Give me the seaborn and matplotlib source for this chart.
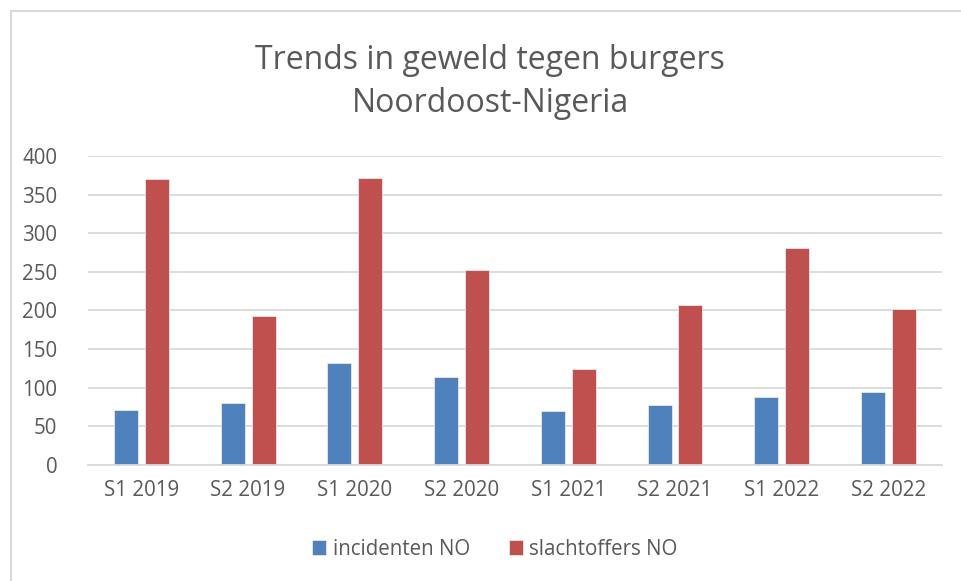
import pandas as pd
import matplotlib
matplotlib.use('Agg')
import matplotlib.pyplot as plt
import seaborn as sns
from matplotlib.lines import Line2D

# data
periods = ['S1 2019', 'S2 2019', 'S1 2020', 'S2 2020',
           'S1 2021', 'S2 2021', 'S1 2022', 'S2 2022']
incidenten = [71, 80, 132, 114, 70, 78, 88, 95]
slachtoffers = [370, 193, 371, 253, 124, 207, 281, 202]
series_names = ['incidenten NO', 'slachtoffers NO']
y_ticks = [0, 50, 100, 150, 200, 250, 300, 350, 400]

df = pd.DataFrame({'periode': periods * 2,
                   'waarde': incidenten + slachtoffers,
                   'reeks': [series_names[0]] * len(periods) + [series_names[1]] * len(periods)})

sns.set_style('white')
plt.rcParams['font.family'] = ['Open Sans', 'DejaVu Sans']
txt = '#595959'

fig = plt.figure(figsize=(9.61, 5.81), dpi=100)
ax = fig.add_axes([0.0916, 0.1997, 0.8884, 0.5318])

sns.barplot(data=df, x='periode', y='waarde', hue='reeks', ax=ax,
            palette=['#4F81BD', '#C0504D'], saturation=1, width=0.58, gap=0.225,
            edgecolor='#E8E8E8', linewidth=0.6, legend=True)

ax.set_ylim(0, 400)
ax.set_xlim(-0.5, len(periods) - 0.5)
ax.set_yticks(y_ticks)
ax.yaxis.grid(True, color='#D9D9D9', linewidth=1.3)
ax.set_axisbelow(True)
for s in ['top', 'right', 'left']:
    ax.spines[s].set_visible(False)
ax.spines['bottom'].set_color('#D9D9D9')
ax.spines['bottom'].set_linewidth(1.3)
ax.tick_params(axis='both', length=0, labelsize=14.8, labelcolor=txt)
ax.tick_params(axis='x', pad=11)
ax.tick_params(axis='y', pad=22)
ax.set_xlabel('')
ax.set_ylabel('')

fig.text(0.51, 0.859, 'Trends in geweld tegen burgers\nNoordoost-Nigeria',
         ha='center', va='center', fontsize=23, color=txt, linespacing=1.4)

h, l = ax.get_legend_handles_labels()
ax.legend_.remove()
fig.legend(h, l, loc='center', bbox_to_anchor=(0.515, 0.055), ncol=2, frameon=False,
           fontsize=14.8, labelcolor=txt, handlelength=0.7, handleheight=0.7,
           handletextpad=0.3, columnspacing=1.9)

# chart area border
fig.add_artist(Line2D([11 / 961, 11 / 961], [0, 1 - 11 / 581], color='#D9D9D9', lw=1.5))
fig.add_artist(Line2D([11 / 961, 1], [1 - 11 / 581, 1 - 11 / 581], color='#D9D9D9', lw=1.5))

fig.savefig('out.png', dpi=100)
